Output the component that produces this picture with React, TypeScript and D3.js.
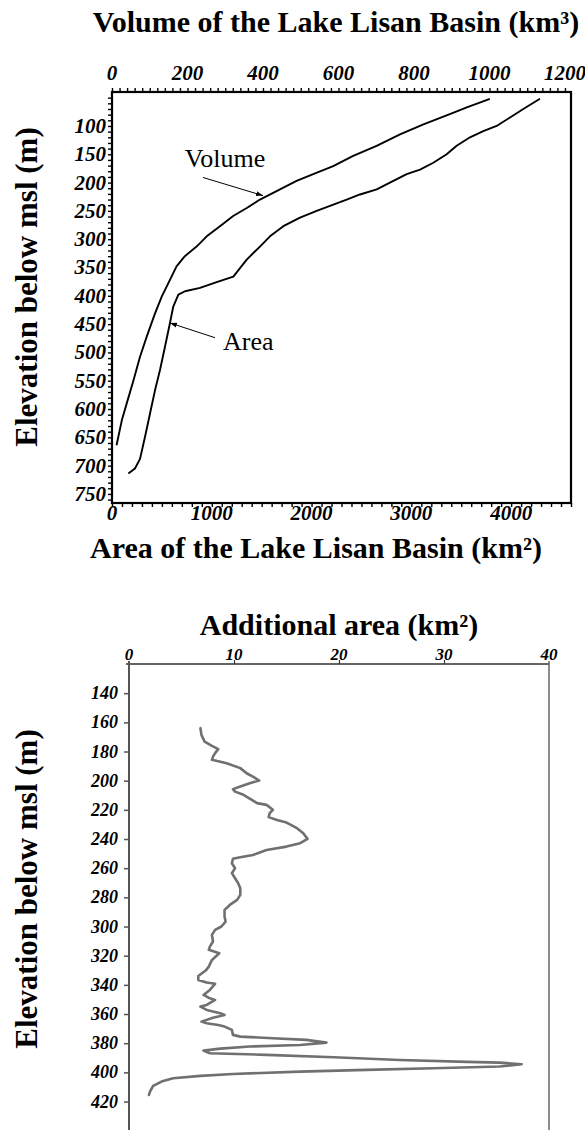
import { useEffect, useRef } from 'react';
import * as d3 from 'd3';

// volume curve (elevation below msl, km3)
const volElev = [52, 67, 79, 97, 115, 135, 153, 171, 185, 197, 215, 230, 245, 259, 277, 295, 313, 330, 348, 378, 401, 431, 472, 508, 549, 590, 620, 664];
const volValue = [1001, 940, 895, 825, 763, 701, 639, 586, 533, 489, 436, 392, 357, 321, 286, 251, 224, 193, 171, 149, 132, 114, 92, 74, 57, 39, 26, 12];

// area curve (elevation below msl, km2)
const areaElev = [52, 70, 85, 100, 109, 120, 135, 150, 165, 177, 185, 197, 212, 221, 230, 239, 250, 262, 277, 295, 313, 336, 366, 376, 386, 392, 398, 419, 448, 490, 531, 567, 608, 649, 688, 705, 714];
const areaValue = [4289, 4122, 3989, 3855, 3721, 3588, 3454, 3354, 3220, 3087, 2953, 2820, 2653, 2485, 2352, 2218, 2051, 1884, 1717, 1583, 1483, 1350, 1216, 1049, 882, 732, 665, 614, 581, 531, 481, 431, 381, 331, 281, 230, 164];

// additional area per step (lower panel)
const addElev = [164, 168.6, 173.2, 176.1, 178.4, 181.1, 183.5, 185.7, 188, 191.4, 194.9, 197.2, 199.9, 201.7, 204, 205.8, 207.5, 209.7, 213.2, 215.4, 216.6, 220, 222.3, 225, 226.9, 228.7, 232.6, 236, 239.9, 242.9, 245.2, 247.5, 250.9, 252.5, 253.6, 256.6, 260, 263.4, 266.9, 270.3, 273.7, 278.3, 281.7, 285.2, 288.6, 293.2, 296.6, 300, 302.3, 305.7, 310.3, 313.8, 316, 318.3, 322.9, 327.5, 330.2, 333.9, 336.6, 338.4, 339.3, 343.5, 346.9, 349.2, 350.3, 353.8, 354.9, 357.2, 359.4, 360.6, 362.5, 365.2, 366.3, 367.5, 368.6, 370.9, 374.3, 375.5, 376.6, 377.7, 379.6, 381.2, 382.3, 383.7, 385.1, 386.9, 388, 389.6, 391.5, 392.8, 393.3, 394.4, 396, 397.2, 398.3, 399.5, 401.1, 402.4, 404, 406.3, 409.3, 413.2, 415.5];
const addValue = [6.8, 6.9, 7.2, 7.9, 8.5, 8.2, 8.0, 7.9, 9.3, 10.6, 11.2, 11.8, 12.4, 11.5, 10.6, 9.9, 10.1, 10.9, 11.7, 12.2, 13.1, 13.7, 13.4, 13.3, 14.1, 15.0, 16.0, 16.6, 17.0, 16.3, 15.0, 13.1, 11.8, 10.6, 9.9, 9.8, 10.1, 9.8, 10.1, 10.4, 10.6, 10.6, 10.3, 9.6, 9.1, 9.1, 9.2, 8.8, 8.2, 7.9, 8.0, 7.7, 7.6, 8.6, 7.9, 7.6, 7.3, 6.6, 6.6, 7.4, 8.2, 7.7, 7.1, 7.7, 8.2, 7.4, 6.8, 7.4, 8.7, 9.1, 8.0, 6.9, 7.4, 8.5, 9.1, 9.8, 9.9, 10.6, 13.7, 16.9, 18.8, 16.3, 11.5, 8.7, 7.1, 7.7, 13.1, 19.5, 25.8, 32.2, 35.3, 37.4, 35.3, 29.0, 22.6, 16.3, 9.9, 6.8, 4.2, 3.1, 2.3, 2.0, 1.9];

const volTicks = [0, 200, 400, 600, 800, 1000, 1200];
const areaTicks = [0, 1000, 2000, 3000, 4000];
const elevTicks = [100, 150, 200, 250, 300, 350, 400, 450, 500, 550, 600, 650, 700, 750];
const addTicks = [0, 10, 20, 30, 40];
const addElevTicks = [140, 160, 180, 200, 220, 240, 260, 280, 300, 320, 340, 360, 380, 400, 420];

const W = 585;
const H = 1130;
const serif = "'Liberation Serif', 'Times New Roman', serif";

const App = () => {
  const svgRef = useRef(null);

  useEffect(() => {
    const svg = d3.select(svgRef.current);
    svg.selectAll('*').remove();
    svg.style('font-family', serif);

    svg.append('defs').append('marker')
      .attr('id', 'arr')
      .attr('viewBox', '0 0 10 10')
      .attr('refX', 10).attr('refY', 5)
      .attr('markerWidth', 7).attr('markerHeight', 7)
      .attr('orient', 'auto')
      .append('path').attr('d', 'M0,1.5L10,5L0,8.5Z').attr('fill', '#000');

    // ---------- upper panel ----------
    const box = { left: 112, right: 571, top: 92, bottom: 503 };
    const xVol = d3.scaleLinear().domain([0, 1216]).range([box.left, box.right]);
    const xArea = d3.scaleLinear().domain([0, 4600]).range([box.left, box.right]);
    const y = d3.scaleLinear().domain([40, 766]).range([box.top, box.bottom]);

    const minor = (g) => {
      g.select('.domain').remove();
      g.selectAll('line').attr('stroke', '#000').attr('stroke-width', 1.4);
    };

    svg.append('g').attr('transform', `translate(0,${box.top})`)
      .call(d3.axisTop(xVol).tickValues(d3.range(0, 1201, 20)).tickSize(4).tickFormat(() => ''))
      .call(minor);
    svg.append('g').attr('transform', `translate(${box.left},0)`)
      .call(d3.axisLeft(y).tickValues(d3.range(50, 761, 10)).tickSize(4).tickFormat(() => ''))
      .call(minor);
    svg.append('g').attr('transform', `translate(0,${box.bottom})`)
      .call(d3.axisBottom(xArea).tickValues(d3.range(0, 4601, 100)).tickSize(4).tickFormat(() => ''))
      .call(minor);

    svg.append('rect')
      .attr('x', box.left).attr('y', box.top)
      .attr('width', box.right - box.left).attr('height', box.bottom - box.top)
      .attr('fill', 'none').attr('stroke', '#000').attr('stroke-width', 2.2);

    const tickText = (sel, size) => sel
      .attr('font-size', size).attr('font-weight', 'bold').attr('font-style', 'italic').attr('fill', '#000');

    svg.selectAll('.vt').data(volTicks).join('text').attr('class', 'vt')
      .attr('x', d => xVol(d)).attr('y', 80).attr('text-anchor', 'middle')
      .call(tickText, 21).text(d => d);
    svg.selectAll('.et').data(elevTicks).join('text').attr('class', 'et')
      .attr('x', 106).attr('y', d => y(d) + 7).attr('text-anchor', 'end')
      .call(tickText, 21).text(d => d);
    svg.selectAll('.at').data(areaTicks).join('text').attr('class', 'at')
      .attr('x', d => xArea(d)).attr('y', 520).attr('text-anchor', 'middle')
      .call(tickText, 21).text(d => d);

    const volLine = d3.line().x(d => xVol(d[1])).y(d => y(d[0]));
    const areaLine = d3.line().x(d => xArea(d[1])).y(d => y(d[0]));
    svg.append('path').attr('d', volLine(d3.zip(volElev, volValue)))
      .attr('fill', 'none').attr('stroke', '#000').attr('stroke-width', 1.9).attr('stroke-linejoin', 'round');
    svg.append('path').attr('d', areaLine(d3.zip(areaElev, areaValue)))
      .attr('fill', 'none').attr('stroke', '#000').attr('stroke-width', 1.9).attr('stroke-linejoin', 'round');

    // annotations
    svg.append('line')
      .attr('x1', xVol(241)).attr('y1', y(191)).attr('x2', xVol(400)).attr('y2', y(223))
      .attr('stroke', '#000').attr('stroke-width', 1).attr('marker-end', 'url(#arr)');
    svg.append('text').attr('x', xVol(193)).attr('y', y(173))
      .attr('font-size', 26).attr('fill', '#000').text('Volume');
    svg.append('line')
      .attr('x1', xArea(1032)).attr('y1', y(474)).attr('x2', xArea(581)).attr('y2', y(448))
      .attr('stroke', '#000').attr('stroke-width', 1).attr('marker-end', 'url(#arr)');
    svg.append('text').attr('x', xArea(1112)).attr('y', y(496))
      .attr('font-size', 26).attr('fill', '#000').text('Area');

    const title = (sel, size) => sel.attr('font-size', size).attr('font-weight', 'bold').attr('fill', '#000');
    svg.append('text').attr('x', 336).attr('y', 32).attr('text-anchor', 'middle')
      .call(title, 30).text('Volume of the Lake Lisan Basin (km³)');
    svg.append('text').attr('x', 316).attr('y', 558).attr('text-anchor', 'middle')
      .call(title, 30).text('Area of the Lake Lisan Basin (km²)');
    svg.append('text').attr('transform', 'translate(37,287) rotate(-90)').attr('text-anchor', 'middle')
      .call(title, 31).text('Elevation below msl (m)');

    // ---------- lower panel ----------
    const b2 = { left: 129, right: 549, top: 664 };
    const x2 = d3.scaleLinear().domain([0, 40]).range([b2.left, b2.right]);
    const y2 = d3.scaleLinear().domain([120, 440]).range([b2.top, 1130.7]);

    svg.append('g').attr('transform', `translate(0,${b2.top})`)
      .call(d3.axisTop(x2).tickValues([10, 20, 30]).tickSize(4).tickFormat(() => ''))
      .call(g => { g.select('.domain').remove(); g.selectAll('line').attr('stroke', '#333').attr('stroke-width', 1.2); });
    svg.append('g').attr('transform', `translate(${b2.left},0)`)
      .call(d3.axisLeft(y2).tickValues(addElevTicks).tickSize(5).tickFormat(() => ''))
      .call(g => { g.select('.domain').remove(); g.selectAll('line').attr('stroke', '#555').attr('stroke-width', 1.5); });

    svg.append('line').attr('x1', b2.left - 3).attr('x2', b2.right).attr('y1', b2.top).attr('y2', b2.top)
      .attr('stroke', '#333').attr('stroke-width', 1.3);
    svg.append('line').attr('x1', b2.left).attr('x2', b2.left).attr('y1', b2.top - 3).attr('y2', H)
      .attr('stroke', '#555').attr('stroke-width', 2);
    svg.append('line').attr('x1', b2.right).attr('x2', b2.right).attr('y1', b2.top - 3).attr('y2', H)
      .attr('stroke', '#666').attr('stroke-width', 1.5);

    svg.selectAll('.xt2').data(addTicks).join('text').attr('class', 'xt2')
      .attr('x', d => x2(d)).attr('y', 660).attr('text-anchor', 'middle')
      .call(tickText, 17).text(d => d);
    svg.selectAll('.yt2').data(addElevTicks).join('text').attr('class', 'yt2')
      .attr('x', 118).attr('y', d => y2(d) + 6).attr('text-anchor', 'end')
      .call(tickText, 18).text(d => d);

    const addLine = d3.line().x(d => x2(d[1])).y(d => y2(d[0]));
    svg.append('path').attr('d', addLine(d3.zip(addElev, addValue)))
      .attr('fill', 'none').attr('stroke', '#707070').attr('stroke-width', 2.6)
      .attr('stroke-linejoin', 'round').attr('stroke-linecap', 'round');

    svg.append('text').attr('x', 339).attr('y', 635).attr('text-anchor', 'middle')
      .call(title, 30).text('Additional area (km²)');
    svg.append('text').attr('transform', 'translate(37,889) rotate(-90)').attr('text-anchor', 'middle')
      .call(title, 31).text('Elevation below msl (m)');
  }, []);

  return (
    <svg
      ref={svgRef}
      width={W}
      height={H}
      style={{ position: 'absolute', left: 0, top: 0, background: '#fff' }}
    />
  );
};

export default App;
